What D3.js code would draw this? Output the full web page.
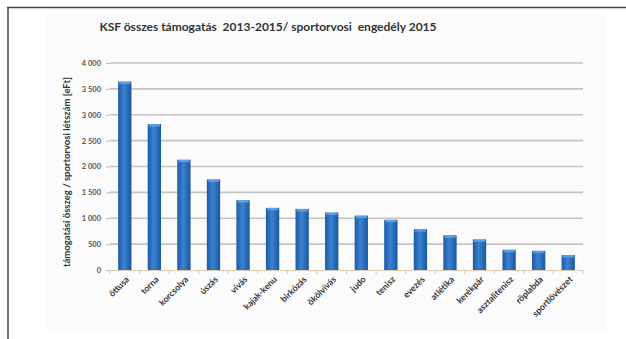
<!DOCTYPE html>
<html><head><meta charset="utf-8">
<script src="https://cdn.jsdelivr.net/npm/d3@7"></script>
<style>
html,body{margin:0;padding:0;background:#fff;}
svg{display:block;}
</style></head>
<body>
<svg id="c" width="626" height="339"></svg>
<script>
const categories = ["öttusa","torna","korcsolya","úszás","vívás","kajak-kenu","birkózás","ökölvívás","judo","tenisz","evezés","atlétika","kerékpár","asztalitenisz","röplabda","sportlövészet"];
const values = [3640,2820,2130,1750,1350,1200,1180,1110,1050,970,790,670,590,390,370,290];
const yTicks = [0,500,1000,1500,2000,2500,3000,3500,4000];
const titleText = "KSF összes támogatás  2013-2015/ sportorvosi  engedély 2015";
const yLabel = "támogatási összeg / sportorvosi létszám [eFt]";

const svg = d3.select("#c");
const font = "Lato, 'Open Sans', sans-serif";

// frame
svg.append("rect").attr("x",46).attr("y",14).attr("width",560).attr("height",318).attr("fill","#fbfbfb");
svg.append("line").attr("x1",7).attr("x2",626).attr("y1",7.5).attr("y2",7.5).attr("stroke","#444").attr("stroke-width",1.5);
svg.append("line").attr("x1",8).attr("x2",8).attr("y1",7).attr("y2",339).attr("stroke","#444").attr("stroke-width",1.5);

const x = d3.scaleBand().domain(categories).range([110,583]).paddingInner(0.55).paddingOuter(0.275);
const y = d3.scaleLinear().domain([0,4000]).range([270,63]);

// gradient
const defs = svg.append("defs");
const g = defs.append("linearGradient").attr("id","bg").attr("x1","0").attr("x2","1").attr("y1","0").attr("y2","0");
g.append("stop").attr("offset","0%").attr("stop-color","#1c5aa3");
g.append("stop").attr("offset","45%").attr("stop-color","#3a82d2");
g.append("stop").attr("offset","100%").attr("stop-color","#1a579e");

// gridlines
svg.append("g").selectAll("line").data(yTicks.filter(d=>d>0)).join("line")
  .attr("x1",110).attr("x2",583).attr("y1",d=>y(d)).attr("y2",d=>y(d))
  .attr("stroke","#c4c4c4").attr("stroke-width",1.6);

// y axis
const ya = svg.append("g").attr("transform","translate(110,0)")
  .call(d3.axisLeft(y).tickValues(yTicks).tickSize(4).tickFormat(d=>d3.format(",")(d).replace(","," ")));
ya.select(".domain").remove();
ya.selectAll(".tick line").attr("stroke","#bbb");
ya.selectAll("text").attr("font-family",font).attr("font-size",7.5).attr("font-weight","bold").attr("fill","#555").attr("x",-9)
  .attr("xml:space","preserve");

// bars
svg.append("g").selectAll("rect").data(values).join("rect")
  .attr("x",(d,i)=>x(categories[i])).attr("width",x.bandwidth())
  .attr("y",d=>y(d)).attr("height",d=>y(0)-y(d))
  .attr("fill","url(#bg)");
svg.append("g").selectAll("rect").data(values).join("rect")
  .attr("x",(d,i)=>x(categories[i])+1).attr("width",x.bandwidth()-2)
  .attr("y",d=>y(d)).attr("height",2.5)
  .attr("fill","#6aa6e6").attr("opacity",0.8);

// x axis
const xa = svg.append("g").attr("transform","translate(0,270)")
  .call(d3.axisBottom(x).tickSize(0).tickFormat(""));
xa.select(".domain").attr("stroke","#d9c9b2").attr("stroke-width",1.2);
const step = x.step();
svg.append("g").selectAll("line").data(d3.range(categories.length+1)).join("line")
  .attr("x1",i=>110+i*step).attr("x2",i=>110+i*step).attr("y1",270).attr("y2",274)
  .attr("stroke","#d9c9b2");

svg.append("g").selectAll("text").data(categories).join("text")
  .attr("transform",d=>`translate(${x(d)+x.bandwidth()/2+5},${280}) rotate(-45)`)
  .attr("text-anchor","end").attr("font-family",font).attr("font-size",8.8).attr("font-weight","bold").attr("fill","#333")
  .text(d=>d);

// y label
svg.append("text").attr("transform","translate(70,172) rotate(-90)")
  .attr("text-anchor","middle").attr("font-family",font).attr("font-size",9.5).attr("font-weight","bold").attr("fill","#333")
  .text(yLabel);

// title
svg.append("text").attr("x",268).attr("y",31).attr("text-anchor","middle")
  .attr("font-family",font).attr("font-size",12).attr("font-weight","bold").attr("fill","#333")
  .attr("xml:space","preserve")
  .text(titleText);
</script>
</body></html>
